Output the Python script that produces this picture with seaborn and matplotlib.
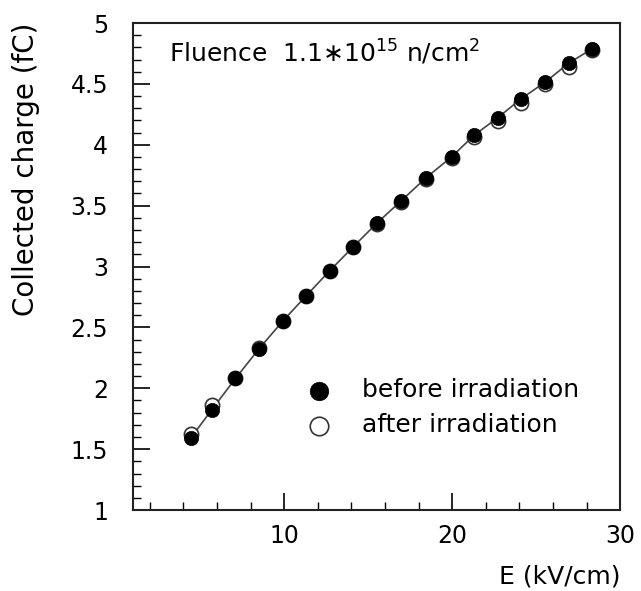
import numpy as np
import pandas as pd
import matplotlib
matplotlib.use('Agg')
import matplotlib.pyplot as plt
import seaborn as sns
from matplotlib.ticker import MultipleLocator

# ==========================================
# Data
# ==========================================
field = [4.45, 5.69, 7.10, 8.51, 9.92, 11.31, 12.70, 14.10, 15.50, 16.94,
         18.45, 19.96, 21.30, 22.73, 24.12, 25.55, 26.95, 28.35]
charge_before = [1.594, 1.824, 2.081, 2.326, 2.553, 2.760, 2.964, 3.161, 3.354, 3.537,
                 3.730, 3.900, 4.078, 4.224, 4.380, 4.516, 4.672, 4.790]
charge_after = [1.627, 1.859, 2.085, 2.330, 2.556, 2.762, 2.966, 3.162, 3.352, 3.532,
                3.722, 3.888, 4.062, 4.196, 4.345, 4.500, 4.640, 4.780]
x_major = [10, 20, 30]
y_major = [1, 1.5, 2, 2.5, 3, 3.5, 4, 4.5, 5]

df = pd.DataFrame({'E': field, 'before': charge_before, 'after': charge_after})

sns.set_style('ticks', {'text.color': 'black', 'axes.labelcolor': 'black',
                        'xtick.color': 'black', 'ytick.color': 'black',
                        'axes.edgecolor': '#222222'})
plt.rcParams['font.family'] = ['DejaVu Sans']

fig = plt.figure(figsize=(6.41, 5.91), dpi=100)
ax = fig.add_axes([0.2075, 0.137, 0.76, 0.824])

# fitted curve through the points
sns.lineplot(data=df, x='E', y='before', ax=ax, color='#444444', lw=1.2,
             zorder=1, legend=False)
sns.scatterplot(data=df, x='E', y='after', ax=ax, s=105, facecolor='white',
                edgecolor='#333333', linewidth=1.2, zorder=2,
                label='after irradiation')
sns.scatterplot(data=df, x='E', y='before', ax=ax, s=105, color='black',
                edgecolor='black', linewidth=0.5, zorder=3,
                label='before irradiation')

ax.set_xlim(1, 30)
ax.set_ylim(1, 5)
ax.set_xticks(x_major)
ax.set_yticks(y_major)
ax.set_yticklabels([f'{v:g}' for v in y_major])
ax.xaxis.set_minor_locator(MultipleLocator(2))
ax.yaxis.set_minor_locator(MultipleLocator(0.1))
ax.tick_params(which='major', direction='in', length=12, width=1.2,
               labelsize=17, top=False, right=False)
ax.tick_params(axis='x', which='major', pad=10)
ax.tick_params(axis='y', which='major', pad=18)
ax.tick_params(which='minor', direction='in', length=6, width=1.0,
               top=False, right=False)
for sp in ax.spines.values():
    sp.set_visible(True)
    sp.set_linewidth(1.5)
    sp.set_color('#222222')

ax.set_xlabel('E (kV/cm)', fontsize=18, loc='right')
ax.set_ylabel('Collected charge (fC)', fontsize=20, loc='top')
ax.xaxis.set_label_coords(1.0, -0.112)
ax.yaxis.set_label_coords(-0.19, 1.0)

ax.text(0.074, 0.94, 'Fluence  1.1$\\ast$10$^{15}$ n/cm$^{2}$',
        transform=ax.transAxes, fontsize=18, va='center', ha='left')

handles, labels = ax.get_legend_handles_labels()
order = [labels.index('before irradiation'), labels.index('after irradiation')]
ax.legend([handles[i] for i in order], [labels[i] for i in order],
          loc='center left', bbox_to_anchor=(0.285, 0.21), frameon=False,
          fontsize=18, markerscale=1.3, handletextpad=0.7, labelspacing=0.45)

fig.savefig('out.png', dpi=100)
